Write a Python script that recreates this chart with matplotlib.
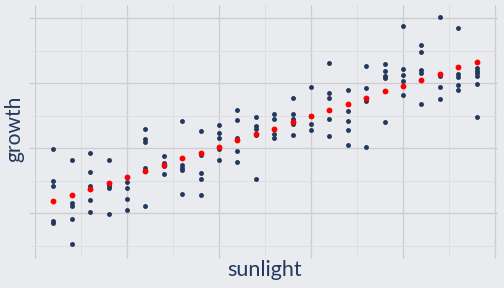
import matplotlib.pyplot as plt
import numpy as np

# sunlight levels (one column of observations per level)
sunlight = [0.4, 0.8, 1.2, 1.6, 2.0, 2.4, 2.8, 3.2, 3.6, 4.0, 4.4, 4.8,
            5.2, 5.6, 6.0, 6.4, 6.8, 7.2, 7.6, 8.0, 8.4, 8.8, 9.2, 9.6]

# observed growth per sunlight level
growth = [
    [0.98, 0.50, 0.41, -0.12, -0.16],
    [0.81, 0.16, 0.11, -0.09, -0.48],
    [0.92, 0.63, 0.41, 0.20, 0.02],
    [0.81, 0.45, 0.41, 0.39, -0.02],
    [0.55, 0.48, 0.39, 0.21, 0.04],
    [1.29, 1.14, 1.09, 0.70, 0.11],
    [0.88, 0.77, 0.72, 0.60],
    [1.41, 0.74, 0.70, 0.66, 0.29],
    [1.26, 0.90, 0.62, 0.52, 0.28],
    [1.35, 1.23, 1.15, 0.98, 0.82],
    [1.59, 1.43, 1.15, 0.95, 0.79],
    [1.47, 1.34, 1.29, 1.20, 0.53],
    [1.52, 1.45, 1.30, 1.21, 1.15],
    [1.77, 1.53, 1.45, 1.37, 1.20],
    [1.94, 1.49, 1.37, 1.27],
    [2.31, 1.84, 1.77, 1.45, 1.19],
    [1.89, 1.57, 1.42, 1.27, 1.05],
    [2.26, 1.92, 1.75, 1.72, 1.01],
    [2.30, 2.19, 2.11, 2.08, 1.40],
    [2.87, 2.22, 2.12, 2.03, 1.81],
    [2.59, 2.47, 2.20, 2.15, 1.67],
    [3.02, 2.13, 2.11, 1.94, 1.75],
    [2.85, 2.14, 2.10, 1.97, 1.89],
    [2.23, 2.19, 2.15, 2.11, 1.99, 1.48],
]

# fitted growth (red points)
fitted = [0.18, 0.27, 0.37, 0.46, 0.56, 0.65, 0.74, 0.84, 0.93, 1.02, 1.12, 1.21,
          1.30, 1.40, 1.49, 1.58, 1.68, 1.77, 1.87, 1.96, 2.05, 2.14, 2.24, 2.33]

navy = '#22385c'
bg = '#e9ebee'
major_c = '#cbcdd1'
minor_c = '#dcdee1'

xs = np.concatenate([[s] * len(g) for s, g in zip(sunlight, growth)])
ys = np.concatenate(growth)

fig = plt.figure(figsize=(7, 4), dpi=72, facecolor=bg)
ax = fig.add_axes([35 / 504, 36 / 288, 463 / 504, 247 / 288], facecolor=bg)

ax.scatter(xs, ys, s=24, color=navy, linewidths=0, zorder=3)
ax.scatter(sunlight, fitted, s=34, color='#ff0000', linewidths=0, zorder=4)

ax.set_xlim(0, 463 / 46)
ax.set_ylim(-0.6, 3.2)
ax.set_xticks([0, 2, 4, 6, 8, 10])
ax.set_xticks([1, 3, 5, 7, 9], minor=True)
ax.set_yticks([0, 1, 2, 3])
ax.set_yticks([-0.5, 0.5, 1.5, 2.5], minor=True)

ax.grid(which='major', color=major_c, linewidth=1.3, zorder=0)
ax.grid(which='minor', color=minor_c, linewidth=1.0, zorder=0)
ax.set_axisbelow(True)
ax.tick_params(which='major', length=6, width=1.3, color=major_c,
               labelleft=False, labelbottom=False)
ax.tick_params(which='minor', length=3, width=1.0, color=minor_c)
for sp in ax.spines.values():
    sp.set_visible(False)

fig.text(265 / 504, 1 - 270 / 288, 'sunlight', family='Lato', fontsize=21.5,
         color=navy, ha='center', va='center')
fig.text(14 / 504, 1 - 129 / 288, 'growth', family='Lato', fontsize=21,
         color=navy, ha='center', va='center', rotation=90)

fig.savefig('out.png', dpi=72, facecolor=bg)
